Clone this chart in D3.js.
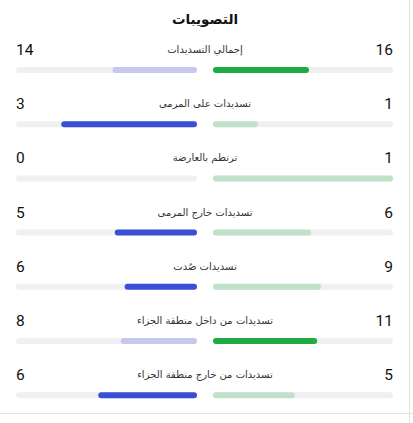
<!DOCTYPE html>
<html>
<head>
<meta charset="utf-8">
<title></title>
<style>
  body { margin: 0; background: #fff; }
  svg { display: block; }
</style>
</head>
<body>
<script src="https://cdn.jsdelivr.net/npm/d3@7/dist/d3.min.js"></script>
<script>
// بيانات
let categories = ['إجمالي التسديدات', 'تسديدات على المرمى', 'ترتطم بالعارضة', 'تسديدات خارج المرمى', 'تسديدات صُدت', 'تسديدات من داخل منطقة الجزاء', 'تسديدات من خارج منطقة الجزاء'];
let leftValues = [14, 3, 0, 5, 6, 8, 6];
let rightValues = [16, 1, 1, 6, 9, 11, 5];
// which side is highlighted in each row
let highlight = ['right', 'left', 'none', 'left', 'left', 'right', 'left'];

let width = 413, height = 423;
let svg = d3.select('body').append('svg').attr('width', width).attr('height', height);

// frame lines
svg.append('line').attr('x1', 409.5).attr('x2', 409.5).attr('y1', 0).attr('y2', height)
    .attr('stroke', '#e2e2e2').attr('stroke-width', 1);
svg.append('line').attr('x1', 0).attr('x2', 413).attr('y1', 413.5).attr('y2', 413.5)
    .attr('stroke', '#e2e2e2').attr('stroke-width', 1);

// title
svg.append('text').attr('x', 205).attr('y', 24).attr('text-anchor', 'middle')
    .attr('font-family', 'DejaVu Sans, Noto Sans').attr('font-size', 13.5).attr('font-weight', 'bold')
    .attr('fill', '#111').text('التصويبات');

let yScale = d3.scaleBand().domain(d3.range(categories.length)).range([22, 22 + 54.2 * 7]);

let leftX0 = 16, leftX1 = 197, rightX0 = 213, rightX1 = 393;
let barH = 6;

let rows = svg.selectAll('.row').data(categories).enter().append('g')
    .attr('class', 'row')
    .attr('transform', (d, i) => 'translate(0,' + yScale(i) + ')');

// numbers
rows.append('text').attr('x', leftX0).attr('y', 33)
    .attr('font-family', 'Roboto, sans-serif').attr('font-size', 15.5).attr('fill', '#111')
    .text((d, i) => leftValues[i]);
rows.append('text').attr('x', rightX1).attr('y', 33).attr('text-anchor', 'end')
    .attr('font-family', 'Roboto, sans-serif').attr('font-size', 15.5).attr('fill', '#111')
    .text((d, i) => rightValues[i]);

// labels
rows.append('text').attr('x', 205).attr('y', 31).attr('text-anchor', 'middle')
    .attr('font-family', 'DejaVu Sans, sans-serif').attr('font-size', 10).attr('fill', '#333')
    .text(d => d);

// tracks
rows.append('rect').attr('x', leftX0).attr('y', 45).attr('width', leftX1 - leftX0).attr('height', barH)
    .attr('rx', 3).attr('fill', '#f0f0f2');
rows.append('rect').attr('x', rightX0).attr('y', 45).attr('width', rightX1 - rightX0).attr('height', barH)
    .attr('rx', 3).attr('fill', '#f0f0f2');

// fills
rows.each(function(d, i) {
    let g = d3.select(this);
    let total = leftValues[i] + rightValues[i];
    let lScale = d3.scaleLinear().domain([0, total]).range([leftX1, leftX0]);
    let rScale = d3.scaleLinear().domain([0, total]).range([rightX0, rightX1]);
    if (leftValues[i] > 0) {
        g.append('rect').attr('x', lScale(leftValues[i])).attr('y', 45)
            .attr('width', leftX1 - lScale(leftValues[i])).attr('height', barH).attr('rx', 3)
            .attr('fill', highlight[i] === 'left' ? '#3a4ed6' : '#c6c8ec');
    }
    if (rightValues[i] > 0) {
        g.append('rect').attr('x', rightX0).attr('y', 45)
            .attr('width', rScale(rightValues[i]) - rightX0).attr('height', barH).attr('rx', 3)
            .attr('fill', highlight[i] === 'right' ? '#1fab3f' : '#bfe1c7');
    }
});
</script>
</body>
</html>
